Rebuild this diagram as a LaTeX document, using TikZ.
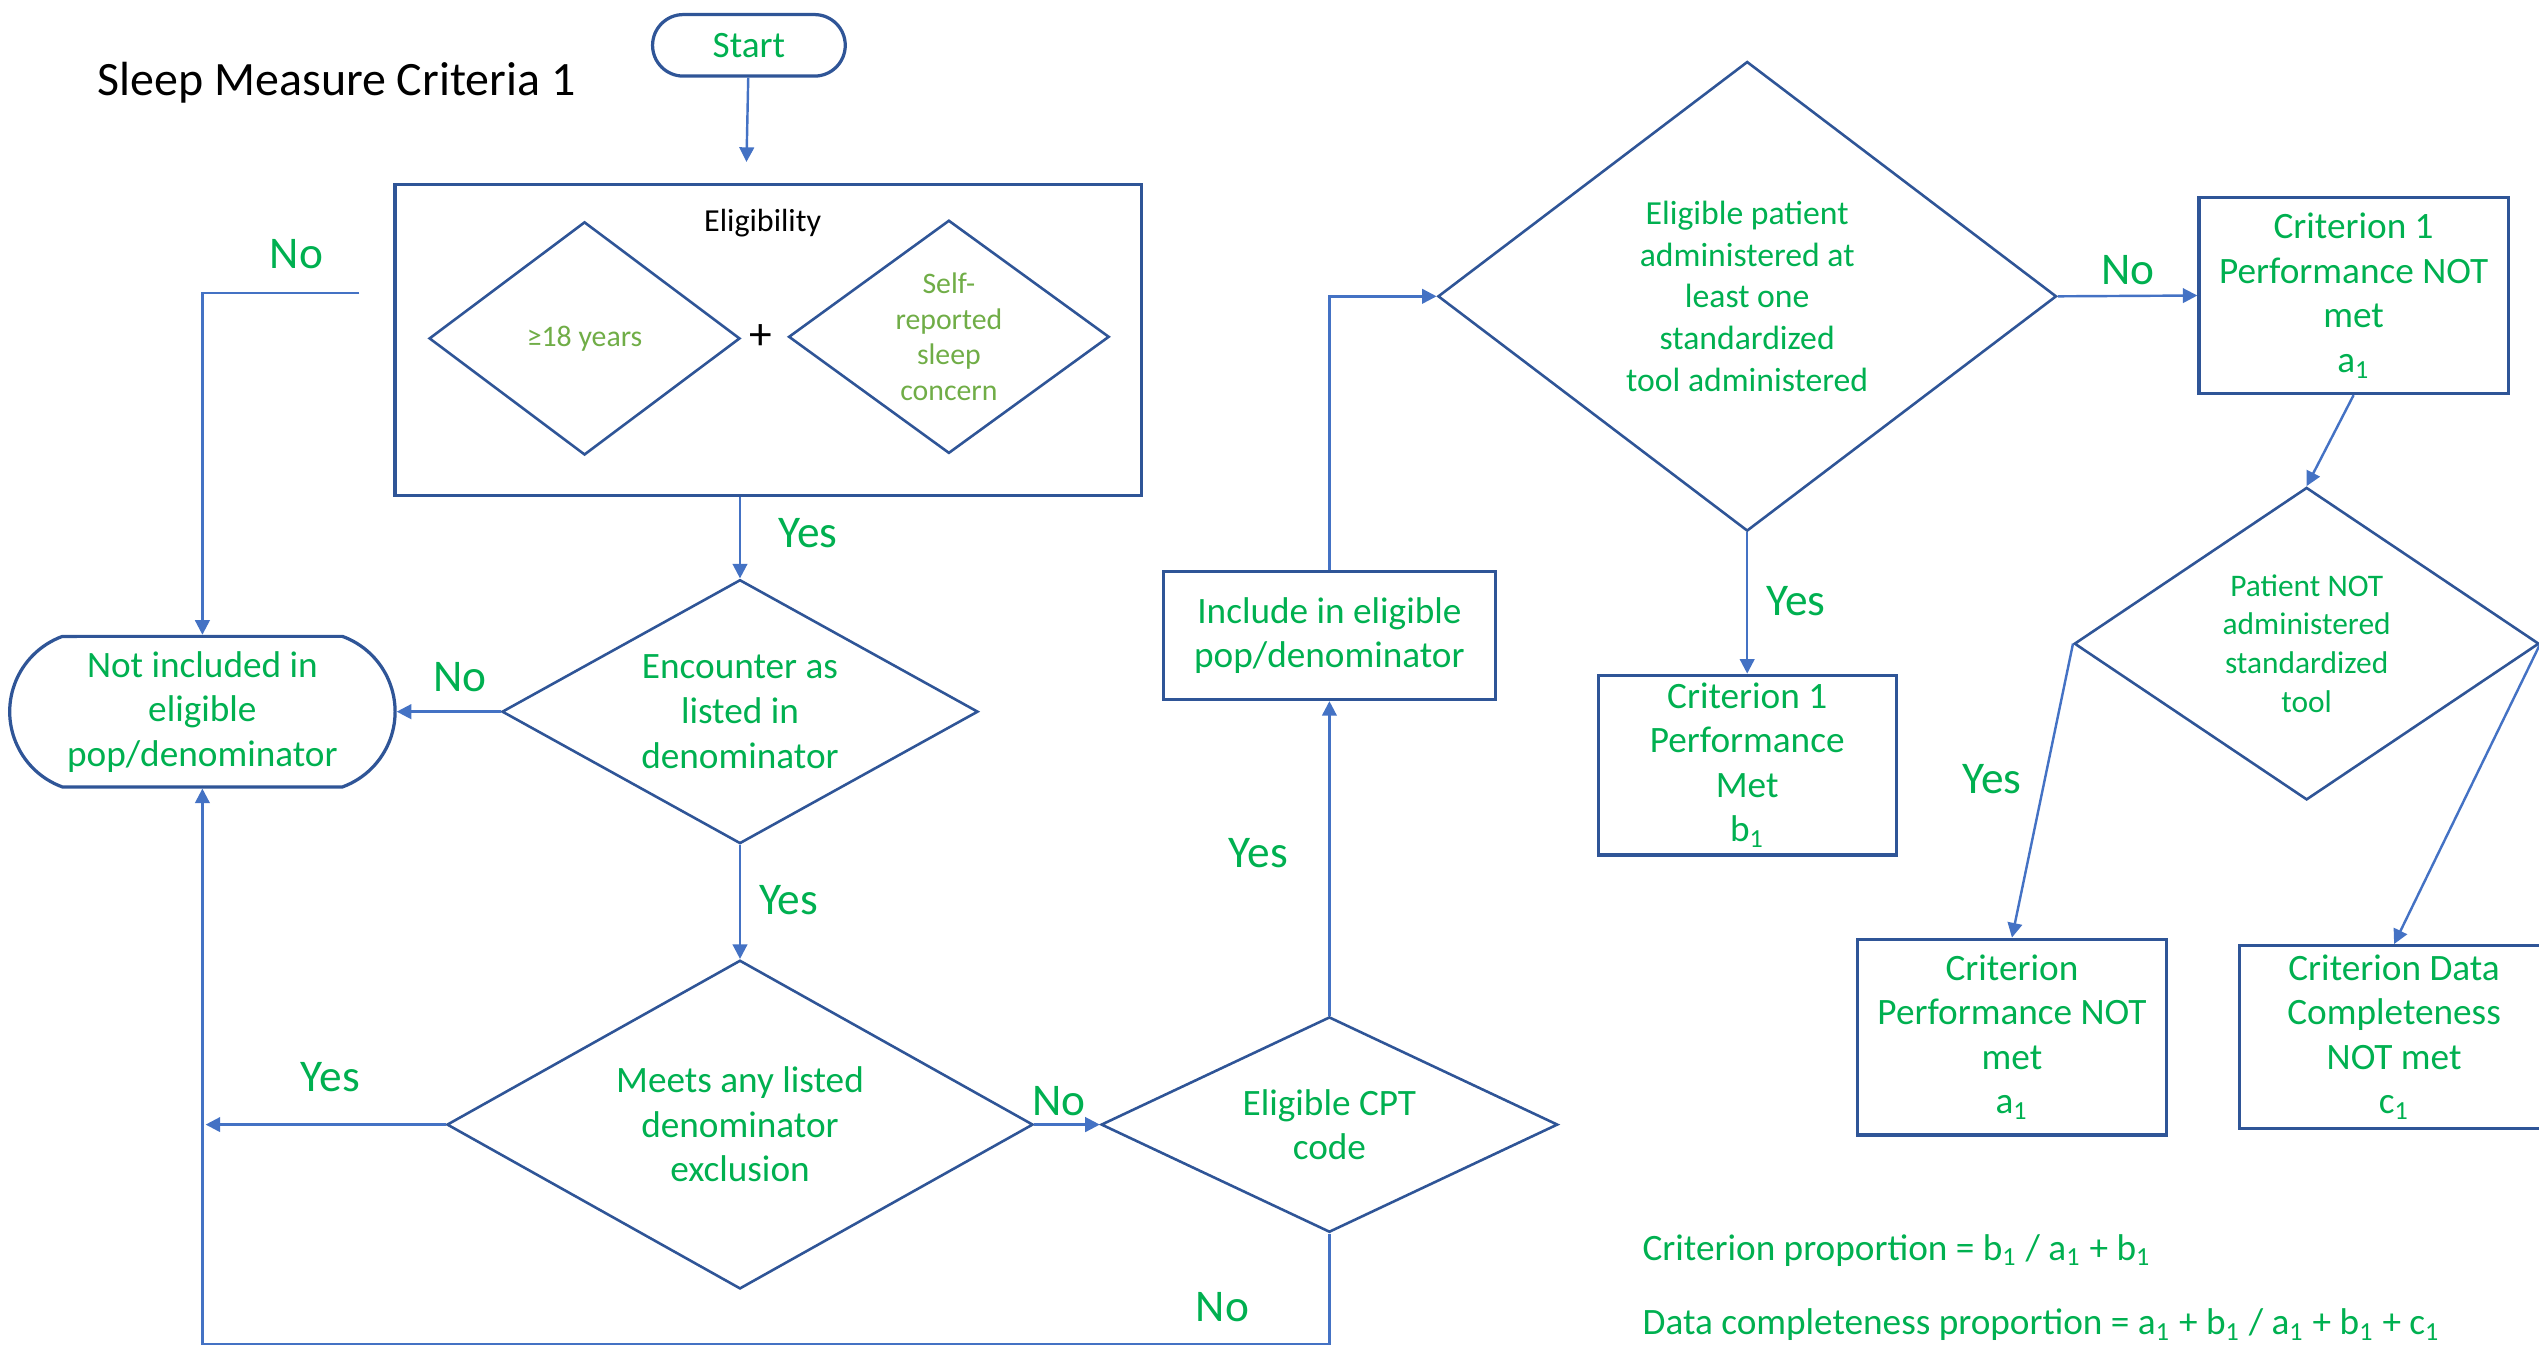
\documentclass[tikz,border=0pt]{standalone}
\usepackage{fontspec}
\setmainfont{Carlito}
\usetikzlibrary{shapes.geometric,shapes.misc,arrows.meta}

\definecolor{boxblue}{HTML}{2F5597}
\definecolor{lineblue}{HTML}{4472C4}
\definecolor{flowgreen}{HTML}{00B050}
\definecolor{softgreen}{HTML}{70AD47}

\tikzstyle{mybox} = [draw=boxblue, line width=1pt, rectangle, inner sep=0pt,
    text=flowgreen, align=center, font=\fontsize{11.5}{13.75}\selectfont]
\tikzstyle{myterm} = [mybox, rounded rectangle]
\tikzstyle{mydiamond} = [mybox, diamond, line width=0.8pt]
\tikzstyle{mysmall} = [mydiamond, text=softgreen, font=\fontsize{9.2}{11}\selectfont]
\tikzstyle{myarrow} = [draw=lineblue, line width=0.75pt,
    -{Triangle[length=4.5pt,width=4.5pt]}]
\tikzstyle{mylabel} = [text=flowgreen, inner sep=0pt, font=\fontsize{14}{16}\selectfont]
\tikzstyle{mytext} = [text=flowgreen, inner sep=0pt, anchor=west,
    font=\fontsize{11.5}{13.75}\selectfont]

\begin{document}
\begin{tikzpicture}[x=0.5pt, y=-0.5pt]
\useasboundingbox (0,0) rectangle (1568,834);

\node [anchor=west, inner sep=0pt, font=\fontsize{14.8}{17}\selectfont] (title) at (60,51) {Sleep Measure Criteria 1};
\node [myterm, minimum width=59.5pt, minimum height=19pt] (start) at (462.5,28) {Start};
\coordinate (startend) at (461,100);

\node [mybox, minimum width=230.5pt, minimum height=96pt] (elig) at (474.5,210) {};
\node [inner sep=0pt, font=\fontsize{9.9}{12}\selectfont] (eligtitle) at (471,138) {Eligibility};
\node [mysmall, shape aspect=1.33, minimum width=96pt, minimum height=72pt] (age) at (361,209) {≥18 years};
\node [inner sep=0pt, font=\fontsize{14}{16}\selectfont] (plus) at (470,208) {+};
\node [mysmall, shape aspect=1.37, minimum width=99pt, minimum height=72pt] (sleep) at (586,208) {Self-\\reported\\sleep\\concern};

\node [myterm, rounded rectangle arc length=140, minimum width=119pt, minimum height=46.5pt] (notinc) at (125,439.5) {Not included in\\eligible\\pop/denominator};
\node [mydiamond, shape aspect=1.8, minimum width=147pt, minimum height=81.5pt] (enc) at (457,439.5) {Encounter as\\listed in\\denominator};
\node [mydiamond, shape aspect=1.78, minimum width=181pt, minimum height=101.5pt] (excl) at (457,694.5) {Meets any listed\\denominator\\exclusion};
\node [mydiamond, shape aspect=2.12, minimum width=141pt, minimum height=66.5pt] (cpt) at (821,694.5) {Eligible CPT\\code};
\node [mybox, minimum width=102.5pt, minimum height=39.5pt] (incl) at (821,392.5) {Include in eligible\\pop/denominator};
\node [mydiamond, shape aspect=1.32, minimum width=191pt, minimum height=145pt, font=\fontsize{10.4}{12.9}\selectfont] (tool) at (1079,183) {Eligible patient\\administered at\\least one\\standardized\\tool administered};
\node [mybox, minimum width=92pt, minimum height=55.5pt] (met) at (1079,472.5) {Criterion 1\\Performance\\Met\\b\textsubscript{1}};
\node [mybox, minimum width=95.5pt, minimum height=60.5pt] (notmet) at (1453.5,182.5) {Criterion 1\\Performance NOT\\met\\a\textsubscript{1}};
\node [mydiamond, shape aspect=1.49, minimum width=143.5pt, minimum height=96.5pt, font=\fontsize{9.7}{12}\selectfont] (notool) at (1424.5,397.5) {Patient NOT\\administered\\standardized\\tool};
\node [mybox, minimum width=95.5pt, minimum height=60.5pt] (critnot) at (1242.5,640.5) {Criterion\\Performance NOT\\met\\a\textsubscript{1}};
\node [mybox, minimum width=95.5pt, minimum height=56.5pt] (compnot) at (1478.5,640.5) {Criterion Data\\Completeness\\NOT met\\c\textsubscript{1}};

\coordinate (elignoend) at (222,181);
\coordinate (exclyes) at (127,694.5);
\coordinate (cptloop) at (821,830);

\draw [myarrow] (start) -- (startend);
\draw [myarrow] (elignoend) -| (notinc.north);
\draw [myarrow] (enc.north |- elig.south) -- (enc.north);
\draw [myarrow] (enc.west) -- (notinc.east);
\draw [myarrow] (enc.south) -- (excl.north);
\draw [myarrow] (excl.west) -- (exclyes);
\draw [myarrow] (excl.east) -- (cpt.west);
\draw [myarrow] (cpt.south) -- (cptloop) -| (notinc.south);
\draw [myarrow] (cpt.north) -- (incl.south);
\draw [myarrow] (incl.north) |- (tool.west);
\draw [myarrow] (tool.east) -- (notmet.west);
\draw [myarrow] (tool.south) -- (met.north);
\draw [myarrow] (notmet.south) -- (notool.north);
\draw [myarrow] (notool.west) -- (critnot.north);
\draw [myarrow] (notool.east) -- (compnot.north);

\node [mylabel] (noelig) at (183,157) {No};
\node [mylabel] (yeselig) at (499,329) {Yes};
\node [mylabel] (noenc) at (284,418) {No};
\node [mylabel] (yesenc) at (487,556) {Yes};
\node [mylabel] (yesexcl) at (204,665) {Yes};
\node [mylabel] (noexcl) at (654,680) {No};
\node [mylabel] (nocpt) at (755,807) {No};
\node [mylabel] (yescpt) at (777,527) {Yes};
\node [mylabel] (notoollab) at (1314,167) {No};
\node [mylabel] (yestool) at (1109,371) {Yes};
\node [mylabel] (yesnotool) at (1230,481) {Yes};

\node [mytext] (critprop) at (1014,772) {Criterion proportion = b\textsubscript{1} / a\textsubscript{1} + b\textsubscript{1}};
\node [mytext] (dataprop) at (1014,818) {Data completeness proportion = a\textsubscript{1} + b\textsubscript{1} / a\textsubscript{1} + b\textsubscript{1} + c\textsubscript{1}};
\end{tikzpicture}
\end{document}
